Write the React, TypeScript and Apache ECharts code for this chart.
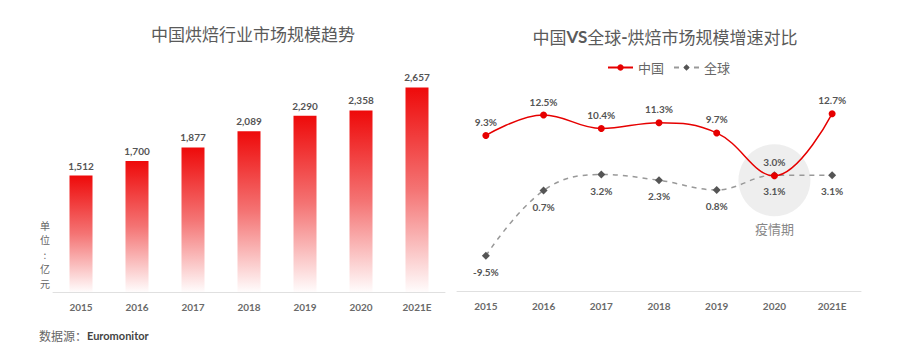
import React, { useEffect, useRef } from "react";
import * as echarts from "echarts";

const years = ["2015", "2016", "2017", "2018", "2019", "2020", "2021E"];
const marketSize = [1512, 1700, 1877, 2089, 2290, 2358, 2657];
const chinaGrowth = [9.3, 12.5, 10.4, 11.3, 9.7, 3.0, 12.7];
const globalGrowth = [-9.5, 0.7, 3.2, 2.3, 0.8, 3.1, 3.1];
const highlightPoint: [string, number] = ["2020", 2.3];
const highlightLabel = "疫情期";
const unitChars = ["单", "位", ":", "亿", "元"];

const FONT = 'Lato, "Noto Sans CJK SC", sans-serif';
const CJK = '"Noto Sans CJK SC", sans-serif';

export default function App() {
  const ref = useRef<HTMLDivElement>(null);
  useEffect(() => {
    if (!ref.current) return;
    const chart = echarts.init(ref.current, undefined, { renderer: "svg" });
    const axisLabel = {
      color: "#6a6a6a",
      fontSize: 10,
      fontWeight: "bold" as const,
      fontFamily: FONT,
      margin: 10,
    };
    const valueLabel = {
      color: "#555",
      fontSize: 10,
      fontWeight: "bold" as const,
      fontFamily: FONT,
    };
    chart.setOption({
      animation: false,
      backgroundColor: "#ffffff",
      title: [
        {
          text: "中国烘焙行业市场规模趋势",
          left: 248,
          textAlign: "center",
          top: 20,
          textStyle: { color: "#5a5a5a", fontSize: 17, fontWeight: "normal", fontFamily: CJK },
        },
        {
          text: "中国{b|VS}全球{b|-}烘焙市场规模增速对比",
          left: 660,
          textAlign: "center",
          top: 23,
          textStyle: {
            color: "#5a5a5a",
            fontSize: 17,
            fontWeight: "normal",
            fontFamily: CJK,
            rich: {
              b: { color: "#5a5a5a", fontSize: 17, fontWeight: "bold", fontFamily: FONT },
            },
          },
        },
      ],
      legend: {
        data: ["中国", "全球"],
        left: 602,
        top: 56,
        itemWidth: 25,
        itemHeight: 8,
        itemGap: 9,
        textStyle: { color: "#666", fontSize: 13, fontFamily: CJK },
      },
      grid: [
        { left: 53, right: 455, top: 61, bottom: 68 },
        { left: 457, right: 39, top: 99, bottom: 69 },
      ],
      xAxis: [
        {
          type: "category",
          gridIndex: 0,
          data: years,
          axisTick: { show: false },
          axisLine: { onZero: false, lineStyle: { color: "#e0e0e0" } },
          axisLabel,
        },
        {
          type: "category",
          gridIndex: 1,
          data: years,
          axisTick: { show: false },
          axisLine: { onZero: false, lineStyle: { color: "#e0e0e0" } },
          axisLabel,
        },
      ],
      yAxis: [
        { type: "value", gridIndex: 0, min: 0, max: 3000, show: false },
        { type: "value", gridIndex: 1, min: -15, max: 15, show: false },
      ],
      series: [
        {
          type: "bar",
          xAxisIndex: 0,
          yAxisIndex: 0,
          data: marketSize,
          barWidth: 23,
          itemStyle: {
            color: new echarts.graphic.LinearGradient(0, 0, 0, 1, [
              { offset: 0, color: "#EE0A0A" },
              { offset: 0.5, color: "#F47474" },
              { offset: 1, color: "#FFFCFC" },
            ]),
          },
          label: {
            show: true,
            position: "top",
            distance: 5,
            ...valueLabel,
            formatter: (p: any) => Number(p.value).toLocaleString("en-US"),
          },
        },
        {
          type: "scatter",
          xAxisIndex: 1,
          yAxisIndex: 1,
          data: [highlightPoint],
          symbolSize: 72,
          silent: true,
          z: 1,
          itemStyle: { color: "#EAEAEA" },
          label: {
            show: true,
            position: "bottom",
            distance: 6,
            formatter: highlightLabel,
            color: "#666",
            fontSize: 13,
            fontFamily: CJK,
          },
        },
        {
          name: "中国",
          type: "line",
          xAxisIndex: 1,
          yAxisIndex: 1,
          data: chinaGrowth,
          smooth: 0.4,
          symbol: "circle",
          symbolSize: 7,
          z: 3,
          lineStyle: { color: "#E60000", width: 1.5 },
          itemStyle: { color: "#E60000" },
          label: {
            show: true,
            position: "top",
            distance: 5,
            ...valueLabel,
            formatter: (p: any) => Number(p.value).toFixed(1) + "%",
          },
        },
        {
          name: "全球",
          type: "line",
          xAxisIndex: 1,
          yAxisIndex: 1,
          data: globalGrowth,
          smooth: 0.4,
          symbol: "diamond",
          symbolSize: 8,
          z: 2,
          lineStyle: { color: "#999", width: 1.5, type: [5, 5] },
          itemStyle: { color: "#555" },
          label: {
            show: true,
            position: "bottom",
            distance: 7,
            ...valueLabel,
            formatter: (p: any) => Number(p.value).toFixed(1) + "%",
          },
        },
      ],
      graphic: [
        ...unitChars.map((c, i) => ({
          type: "text",
          x: 45,
          y: 220 + i * 14.5,
          style: {
            text: c,
            fill: "#666",
            fontSize: 10,
            align: "center",
            verticalAlign: "top",
            fontFamily: CJK,
          },
        })),
        {
          type: "text",
          left: 39,
          top: 329,
          style: {
            text: "{a|数据源：}{b|Euromonitor}",
            rich: {
              a: { fill: "#666", fontSize: 12, fontFamily: CJK },
              b: { fill: "#444", fontSize: 11, fontWeight: "bold", fontFamily: FONT },
            },
          },
        },
      ],
    });
    return () => chart.dispose();
  }, []);
  return (
    <div
      ref={ref}
      style={{ position: "fixed", left: 0, top: 0, width: 900, height: 360 }}
    />
  );
}
